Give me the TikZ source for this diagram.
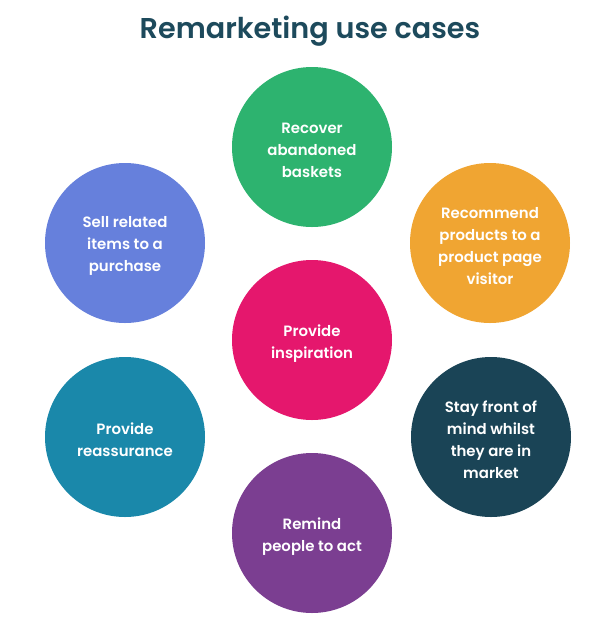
\documentclass[tikz,border=0pt]{standalone}
\usepackage{fontspec}
\setmainfont{Poppins}[BoldFont={* SemiBold}]
\newfontfamily\titlefont{Poppins}[UprightFont={* SemiBold}]
\definecolor{cgreen}{HTML}{2DB36F}
\definecolor{cblue}{HTML}{6680DC}
\definecolor{corange}{HTML}{F0A532}
\definecolor{cpink}{HTML}{E5176D}
\definecolor{cteal}{HTML}{1A88AA}
\definecolor{cdark}{HTML}{1A4456}
\definecolor{cpurple}{HTML}{7B3E91}
\definecolor{ctitle}{HTML}{1D4A5C}
\begin{document}
\begin{tikzpicture}[x=0.75pt,y=-0.75pt,
  bubble/.style={circle,minimum size=120pt,inner sep=0pt},
  btext/.style={text=white,align=center,inner sep=0pt,
    font=\fontsize{11.2pt}{16.5pt}\selectfont\bfseries}]
\useasboundingbox[fill=white] (0,0) rectangle (609,637);
\node[font=\fontsize{21.5pt}{24pt}\titlefont,text=ctitle] (title) at (310,31) {Remarketing use cases};
\node[bubble,fill=cgreen] (a) at (312,147) {};
\node[bubble,fill=cblue] (b) at (125,243) {};
\node[bubble,fill=corange] (c) at (490,243) {};
\node[bubble,fill=cpink] (d) at (312,340) {};
\node[bubble,fill=cteal] (e) at (125,437) {};
\node[bubble,fill=cdark] (f) at (491,437) {};
\node[bubble,fill=cpurple] (g) at (312,533) {};
\node[btext] (at) at ([yshift=-2.4pt]a) {Recover\\abandoned\\baskets};
\node[btext] (bt) at ([yshift=-2.4pt]b) {Sell related\\items to a\\purchase};
\node[btext] (ct) at ([yshift=-2.4pt]c) {Recommend\\products to a\\product page\\visitor};
\node[btext] (dt) at ([yshift=-2.4pt]d) {Provide\\inspiration};
\node[btext] (et) at ([yshift=-2.4pt]e) {Provide\\reassurance};
\node[btext] (ft) at ([yshift=-2.4pt]f) {Stay front of\\mind whilst\\they are in\\market};
\node[btext] (gt) at ([yshift=-2.4pt]g) {Remind\\people to act};
\end{tikzpicture}
\end{document}
